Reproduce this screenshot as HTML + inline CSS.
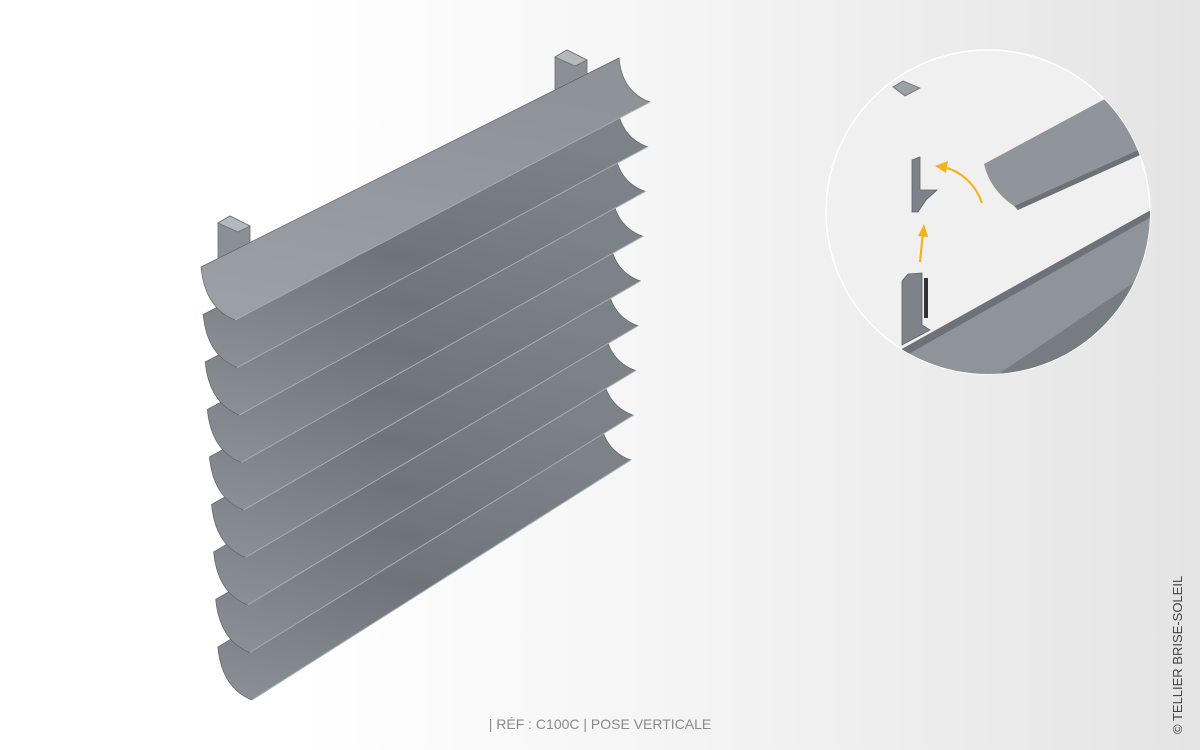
<!DOCTYPE html>
<html><head><meta charset="utf-8"><style>
html,body{margin:0;padding:0;width:1200px;height:750px;overflow:hidden}
body{background:linear-gradient(90deg,#fff 0%,#fff 25%,#f3f3f3 60%,#e4e4e4 100%);font-family:"Liberation Sans",sans-serif;position:relative}
.cap{position:absolute;left:0;width:1200px;top:716px;text-align:center;color:#8a8a8a;font-size:14px}
.copy{position:absolute;left:1170px;top:734px;transform:rotate(-90deg);transform-origin:0 0;color:#444;font-size:13px;white-space:nowrap}
</style></head><body>
<svg width="1200" height="750" style="position:absolute;left:0;top:0">
<defs>
<linearGradient id="gs" x1="0" y1="1" x2="0.3" y2="0">
<stop offset="0" stop-color="#8c9197"/><stop offset="0.5" stop-color="#6f747a"/><stop offset="1" stop-color="#7d8288"/></linearGradient>
<linearGradient id="gt" x1="0" y1="1" x2="0.3" y2="0">
<stop offset="0" stop-color="#9ba1a7"/><stop offset="1" stop-color="#8d9399"/></linearGradient>
<clipPath id="cc"><circle cx="988" cy="212" r="162"/></clipPath>
</defs>
<g fill="#8b9096" stroke="#6c7076" stroke-width="0.8">
<path d="M218 223 L230 216 L250 226 L250 250 L218 262 Z"/>
<path d="M218 223 L230 216 L250 226 L238 232 Z" fill="#b4b9be"/>
<path d="M555 57 L567 50 L587 60 L587 84 L555 96 Z"/>
<path d="M555 57 L567 50 L587 60 L575 66 Z" fill="#b4b9be"/>
</g>
<g id="slats"></g>
<circle cx="988" cy="212" r="162" fill="#f0f0f0" stroke="#fff" stroke-width="1.5"/>
<g clip-path="url(#cc)">
<path d="M1103 100 L1160 60 L1160 140 L1014 206 Q990 190 984 164 Z" fill="#8f959b"/>
<path d="M1014 206 L1160 140 L1160 146 L1018 210 Z" fill="#6d7278"/>
<path d="M900 350 L1160 205 L1160 400 L900 400 Z" fill="#8e949a"/>
<path d="M960 400 L1160 265 L1160 400 Z" fill="#777c82"/>
<path d="M900 350 L1160 205 L1160 212 L905 356 Z" fill="#6d7278"/>
<path d="M902 281 L908 274 L922 273 L922 325 L930 330 L902 345 Z" fill="#7e8389" stroke="#5d6167" stroke-width="0.8"/>
<rect x="924" y="278" width="4" height="40" fill="#333"/>
<path d="M912 160 L920 157 L920 190 L937 190 L926 200 L918 212 L912 212 Z" fill="#7e8389" stroke="#5d6167" stroke-width="0.8"/>
<path d="M893 87 L903 81 L920 88 L905 96 Z" fill="#9ba0a6" stroke="#6c7076" stroke-width="0.8"/>
<path d="M920 262 L923 232" stroke="#f5b21b" stroke-width="2.2" fill="none"/>
<path d="M918 236 L924 224 L928 237 Z" fill="#f5b21b"/>
<path d="M982 203 Q972 175 944 167" stroke="#f5b21b" stroke-width="2.2" fill="none"/>
<path d="M948 161 L935 166 L946 173 Z" fill="#f5b21b"/>
</g>
</svg>
<div class="cap">| RÉF : C100C | POSE VERTICALE</div>
<div class="copy">© TELLIER BRISE-SOLEIL</div>
<script>
var g=document.getElementById('slats'),h='';
for(var i=8;i>=0;i--){
 var lx=235+2.1*i,ly=320+47.5*i,rx=650-2.4*i,ry=102+44.75*i;
 var ax=lx-34,ay=ly-53,dx=rx-31,dy=ry-44;
 var d='M'+dx+' '+dy+' L'+ax+' '+ay+' Q'+(lx-30)+' '+(ly-12)+' '+lx+' '+ly+' L'+rx+' '+ry+' Q'+(rx-28)+' '+(ry-10)+' '+dx+' '+dy+' Z';
 h+='<path d="'+d+'" fill="url(#'+(i==0?'gt':'gs')+')" stroke="#5f6369" stroke-width="0.7"/>';
 h+='<path d="M'+lx+' '+ly+' L'+rx+' '+ry+'" stroke="#a9aeb3" stroke-width="1"/>';
}
g.innerHTML=h;
</script>
</body></html>
